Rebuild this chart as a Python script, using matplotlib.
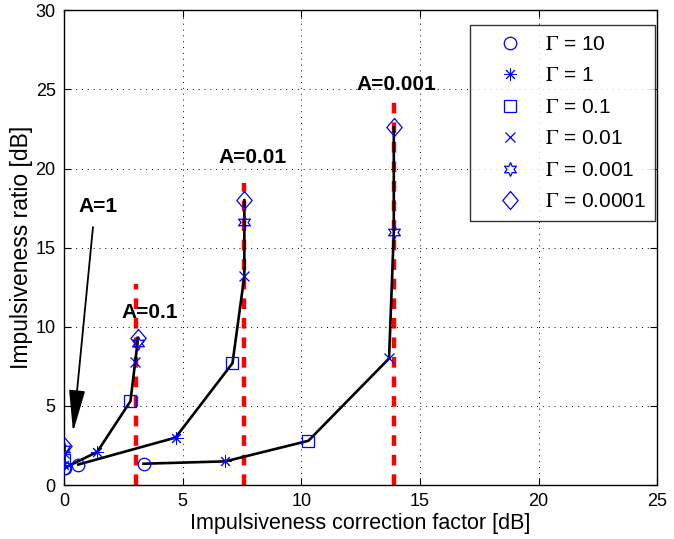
import matplotlib
matplotlib.use("Agg")
import matplotlib.pyplot as plt

plt.rcParams['font.family'] = ['Liberation Sans', 'DejaVu Sans']
plt.rcParams['mathtext.fontset'] = 'stix'

gammas = ["10", "1", "0.1", "0.01", "0.001", "0.0001"]

# correction factor [dB] / ratio [dB] per A, ordered by Gamma (10 ... 0.0001)
A1_x = [0.0, 0.0, 0.0, 0.0, 0.0, 0.0]
A1_y = [1.1, 1.3, 1.6, 2.0, 2.3, 2.5]
A01_x = [0.05, 1.4, 2.8, 3.0, 3.1, 3.1]
A01_y = [1.1, 2.1, 5.3, 7.8, 9.0, 9.3]
A001_x = [0.6, 4.7, 7.1, 7.6, 7.6, 7.6]
A001_y = [1.3, 3.0, 7.7, 13.2, 16.6, 18.0]
A0001_x = [3.35, 6.8, 10.3, 13.7, 13.9, 13.9]
A0001_y = [1.35, 1.5, 2.8, 8.0, 16.0, 22.6]

curves = [(A1_x, A1_y), (A01_x, A01_y), (A001_x, A001_y), (A0001_x, A0001_y)]

limit_x = [3.05, 7.6, 13.9]
limit_top = [12.7, 19.1, 24.4]

labels = ["A=1", "A=0.1", "A=0.01", "A=0.001"]
label_x = [1.43, 3.6, 7.93, 14.0]
label_y = [17.6, 10.9, 20.7, 25.3]

# matlab-like markers
diamond = [(0, 1), (0.85, 0), (0, -1), (-0.85, 0), (0, 1)]
markers = ["o", (8, 2, 0), "s", "x", (6, 1, 0), diamond]
msizes = [9, 9, 8.5, 7, 10, 13]
mews = [0.9, 0.7, 0.9, 0.9, 0.9, 0.9]

fig = plt.figure(figsize=(6.74, 5.39), dpi=100)
ax = fig.add_axes([0.095, 0.1, 0.88, 0.881])

for lx, top in zip(limit_x, limit_top):
    ax.plot([lx, lx], [0, top], color="red", linestyle=(0, (2.4, 2.0)), linewidth=3.2, zorder=1)

for cx, cy in curves:
    ax.plot(cx, cy, color="black", linewidth=1.9, zorder=2)

for i, (g, m, ms, mw) in enumerate(zip(gammas, markers, msizes, mews)):
    xs = [c[0][i] for c in curves]
    ys = [c[1][i] for c in curves]
    ax.plot(xs, ys, linestyle="none", marker=m, markersize=ms,
            fillstyle="none", markeredgecolor="blue", color="blue",
            markeredgewidth=mw, label=r"$\Gamma$ = " + g, zorder=3)

ax.annotate("", xy=(0.38, 3.35), xytext=(1.22, 16.3),
            arrowprops=dict(arrowstyle="-|>,head_width=0.5,head_length=2.6",
                            color="black", lw=1.3, shrinkA=0, shrinkB=0))
for t, tx, ty in zip(labels, label_x, label_y):
    ax.text(tx, ty, t, fontsize=15, fontweight="bold", ha="center", va="center")

ax.set_xlim(0, 25)
ax.set_ylim(0, 30)
ax.set_xticks(range(0, 26, 5))
ax.set_yticks(range(0, 31, 5))
ax.tick_params(direction="in", labelsize=13, top=True, right=True, pad=6, length=5)
ax.grid(True, color="black", linestyle=(0, (1, 5)), linewidth=0.7)
for s in ax.spines.values():
    s.set_linewidth(1.0)
ax.set_xlabel("Impulsiveness correction factor [dB]", fontsize=15.5, labelpad=2)
ax.set_ylabel("Impulsiveness ratio [dB]", fontsize=16.5, labelpad=2)

leg = ax.legend(loc="upper right", bbox_to_anchor=(0.9966, 0.968), borderaxespad=0,
                fontsize=15, frameon=True, fancybox=False, edgecolor="black",
                borderpad=0.45, labelspacing=0.6, handlelength=3.0,
                handletextpad=0.15)
leg.get_frame().set_linewidth(1.0)

fig.savefig("out.png", dpi=100)
